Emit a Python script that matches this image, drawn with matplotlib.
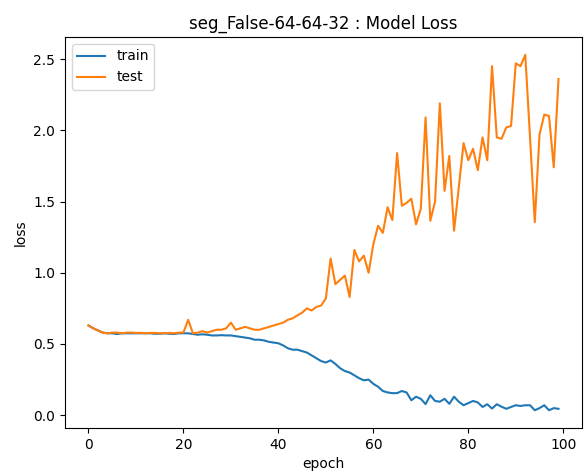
import matplotlib
matplotlib.use("Agg")
import matplotlib.pyplot as plt
import numpy as np

title = "seg_False-64-64-32 : Model Loss"
epochs = list(range(100))

train_loss = [
    0.63, 0.61, 0.595, 0.58, 0.575, 0.575, 0.57, 0.575, 0.575, 0.575,
    0.575, 0.575, 0.575, 0.575, 0.572, 0.572, 0.575, 0.572, 0.57, 0.575,
    0.575, 0.575, 0.57, 0.565, 0.568, 0.565, 0.56, 0.56, 0.562, 0.56,
    0.56, 0.555, 0.55, 0.545, 0.54, 0.53, 0.53, 0.525, 0.515, 0.51,
    0.505, 0.49, 0.47, 0.46, 0.46, 0.45, 0.44, 0.42, 0.40, 0.38,
    0.37, 0.385, 0.36, 0.33, 0.31, 0.30, 0.28, 0.26, 0.245, 0.25,
    0.22, 0.20, 0.17, 0.16, 0.155, 0.155, 0.17, 0.16, 0.105, 0.13,
    0.115, 0.078, 0.14, 0.10, 0.095, 0.115, 0.08, 0.13, 0.095, 0.07,
    0.085, 0.10, 0.09, 0.058, 0.077, 0.047, 0.077, 0.06, 0.045, 0.058,
    0.07, 0.065, 0.07, 0.07, 0.035, 0.05, 0.07, 0.035, 0.05, 0.045,
]

test_loss = [
    0.63, 0.61, 0.595, 0.58, 0.575, 0.58, 0.58, 0.575, 0.58, 0.58,
    0.578, 0.578, 0.575, 0.578, 0.578, 0.575, 0.575, 0.578, 0.575, 0.58,
    0.58, 0.67, 0.575, 0.58, 0.59, 0.58, 0.59, 0.60, 0.60, 0.61,
    0.65, 0.60, 0.61, 0.62, 0.61, 0.60, 0.60, 0.61, 0.62, 0.63,
    0.64, 0.65, 0.67, 0.68, 0.70, 0.72, 0.75, 0.735, 0.76, 0.77,
    0.82, 1.10, 0.92, 0.95, 0.98, 0.83, 1.16, 1.08, 1.12, 1.00,
    1.20, 1.33, 1.28, 1.46, 1.37, 1.84, 1.47, 1.49, 1.52, 1.34,
    1.45, 2.09, 1.365, 1.50, 2.19, 1.575, 1.82, 1.295, 1.60, 1.91,
    1.79, 1.87, 1.72, 1.95, 1.79, 2.45, 1.95, 1.94, 2.02, 2.03,
    2.47, 2.45, 2.53, 1.95, 1.355, 1.97, 2.11, 2.10, 1.74, 2.36,
]

fig = plt.figure(figsize=(5.87, 4.73), dpi=100)
ax = fig.add_axes([0.1107, 0.0951, 0.8808, 0.8267])
ax.plot(epochs, train_loss, label="train")
ax.plot(epochs, test_loss, label="test")
ax.set_title(title)
ax.set_xlabel("epoch")
ax.set_ylabel("loss")
ax.set_xticks([0, 20, 40, 60, 80, 100])
ax.set_yticks([0.0, 0.5, 1.0, 1.5, 2.0, 2.5])
ax.legend(loc="upper left")
fig.savefig("out.png", dpi=100)
